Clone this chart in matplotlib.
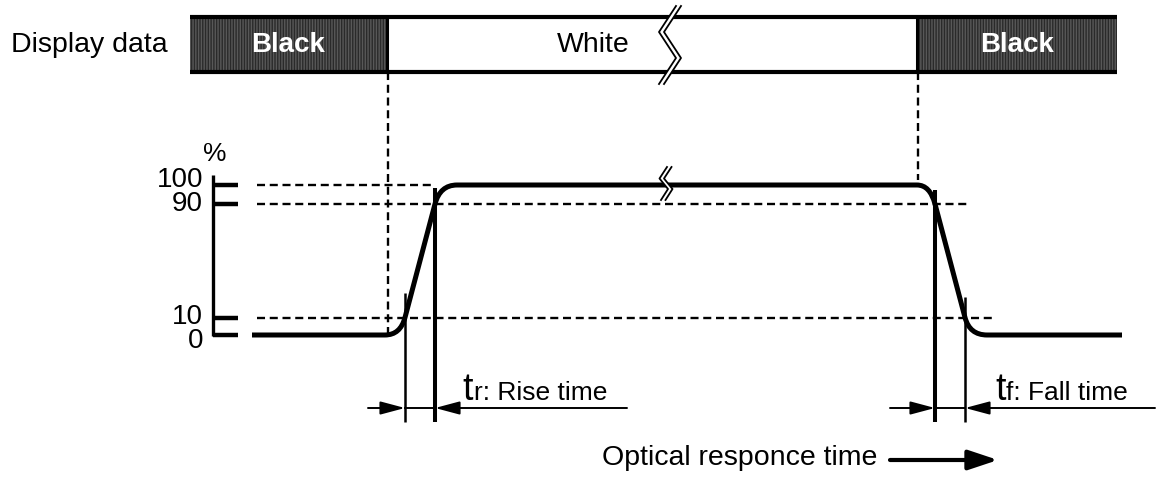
import numpy as np
import matplotlib
matplotlib.use("Agg")
import matplotlib.pyplot as plt
from matplotlib.path import Path
from matplotlib.patches import PathPatch, Rectangle, Polygon, FancyArrowPatch

plt.rcParams['font.family'] = ['Liberation Sans', 'DejaVu Sans']
plt.rcParams['hatch.linewidth'] = 1.0

# ---------------- data ----------------
segment_labels = ["Black", "White", "Black"]
segment_edges = [190, 387, 917, 1117]          # time of display-data transitions
levels = [0, 10, 90, 100]                       # percent levels on the response axis
level_labels = ["0", "10", "90", "100"]
curve_time = [252, 385, 405, 435, 457, 917, 935, 965, 987, 1122]
curve_pct = [0, 0, 10, 90, 100, 100, 90, 10, 0, 0]
rise_times = [405, 435]     # tr measured between 10% and 90%
fall_times = [935, 965]     # tf measured between 90% and 10%

# ---------------- layout ----------------
W, H = 1160, 479
LEVEL_Y = [335, 317.5, 204, 185]      # schematic (non-linear) placement of levels


def py(p):
    return np.interp(p, levels, LEVEL_Y)


fig = plt.figure(figsize=(W / 100, H / 100), dpi=100)
ax = fig.add_axes([0, 0, 1, 1])
ax.set_xlim(0, W)
ax.set_ylim(H, 0)
ax.axis('off')

# ---------- display data bar ----------
bar_top, bar_bot = 17, 72
ax.text(11, 45, "Display data", fontsize=20.5, ha='left', va='center')
for i, lab in enumerate(segment_labels):
    x0, x1 = segment_edges[i], segment_edges[i + 1]
    if lab == "Black":
        ax.add_patch(Rectangle((x0, bar_top), x1 - x0, bar_bot - bar_top,
                               facecolor='#2a2a2a', edgecolor='#585858',
                               hatch='||||||', linewidth=0, zorder=1))
        ax.text((x0 + x1) / 2, 45, lab, fontsize=20, fontweight='bold',
                color='white', ha='center', va='center', zorder=3)
    else:
        ax.text(593, 45, lab, fontsize=20.5, ha='center', va='center', zorder=3)
ax.plot([segment_edges[0], segment_edges[-1]], [bar_top, bar_top], color='k', lw=3, solid_capstyle='butt', zorder=2)
ax.plot([segment_edges[0], segment_edges[-1]], [bar_bot, bar_bot], color='k', lw=3, solid_capstyle='butt', zorder=2)
for x in segment_edges[1:-1]:
    ax.plot([x, x], [bar_top, bar_bot], color='k', lw=2.2, zorder=2)

# break mark in bar
zz = np.array([[676, 6], [659, 32], [676, 58], [659, 84]], float)
off = np.array([5, 0])
ax.add_patch(Polygon(np.vstack([zz, (zz + off)[::-1]]), closed=True,
                     facecolor='white', edgecolor='none', zorder=4))
for z in (zz, zz + off):
    ax.plot(z[:, 0], z[:, 1], color='k', lw=1.3, zorder=5)

# ---------- dashed guide lines ----------
dash = (0, (3.4, 2.0))
dlw = 1.7
ax.plot([segment_edges[1] + 1, segment_edges[1] + 1], [bar_bot, 333], color='k', lw=dlw, ls=dash)
ax.plot([segment_edges[2] + 1, segment_edges[2] + 1], [bar_bot, 180], color='k', lw=dlw, ls=dash)
ax.plot([257, 432], [py(100), py(100)], color='k', lw=dlw, ls=dash)
ax.plot([257, 968], [py(90), py(90)], color='k', lw=dlw, ls=dash)
ax.plot([257, 993], [py(10), py(10)], color='k', lw=dlw, ls=dash)

# ---------- vertical axis ----------
ax.plot([213, 213], [175, py(0) + 1], color='k', lw=2.4, solid_capstyle='butt')
for lv, lab in zip(levels, level_labels):
    ax.plot([213, 238], [py(lv), py(lv)], color='k', lw=3.2, solid_capstyle='butt')
    dy = {0: 6, 10: -1, 100: -5}.get(lv, 0)
    ax.text(203, py(lv) + dy, lab, fontsize=20, ha='right', va='center')
ax.text(215, 154, "%", fontsize=19, ha='center', va='center')

# ---------- response curve ----------
xs = np.array(curve_time, float)
ys = py(np.array(curve_pct, float))


def corner_ctrl(pa, pb, y_level):
    # extend line pa->pb to y_level
    (xa, ya), (xb, yb) = pa, pb
    return xa + (xb - xa) * (y_level - ya) / (yb - ya)


verts, codes = [], []
P = list(zip(xs, ys))
verts += [P[0], P[1]]; codes += [Path.MOVETO, Path.LINETO]
c = corner_ctrl(P[3], P[2], P[1][1]); verts += [(c, P[1][1]), P[2]]; codes += [Path.CURVE3] * 2
verts += [P[3]]; codes += [Path.LINETO]
c = corner_ctrl(P[2], P[3], P[4][1]); verts += [(c, P[4][1]), P[4]]; codes += [Path.CURVE3] * 2
verts += [P[5]]; codes += [Path.LINETO]
c = corner_ctrl(P[7], P[6], P[5][1]); verts += [(c, P[5][1]), P[6]]; codes += [Path.CURVE3] * 2
verts += [P[7]]; codes += [Path.LINETO]
c = corner_ctrl(P[6], P[7], P[8][1]); verts += [(c, P[8][1]), P[8]]; codes += [Path.CURVE3] * 2
verts += [P[9]]; codes += [Path.LINETO]
ax.add_patch(PathPatch(Path(verts, codes), facecolor='none', edgecolor='k',
                       lw=3.6, capstyle='butt', joinstyle='round', zorder=3))

# break mark on plateau
zp = np.array([[667, 167], [659.5, 178.5], [668, 189], [661, 200]], float)
offp = np.array([4.5, 0])
ax.add_patch(Polygon(np.vstack([zp, (zp + offp)[::-1]]), closed=True,
                     facecolor='white', edgecolor='none', zorder=4))
for z in (zp, zp + offp):
    ax.plot(z[:, 0], z[:, 1], color='k', lw=1.3, zorder=5)

# ---------- time markers ----------
ax.plot([rise_times[0]] * 2, [293, 422], color='k', lw=1.8, solid_capstyle='butt')
ax.plot([rise_times[1]] * 2, [188, 422], color='k', lw=2.9, solid_capstyle='butt')
ax.plot([fall_times[0]] * 2, [190, 422], color='k', lw=2.9, solid_capstyle='butt')
ax.plot([fall_times[1]] * 2, [297, 422], color='k', lw=1.8, solid_capstyle='butt')

arr_y = 408
astyle = '-|>,head_length=0.75,head_width=0.2'


def arrow(x0, x1, y):
    ax.add_patch(FancyArrowPatch((x0, y), (x1, y), arrowstyle=astyle,
                                 mutation_scale=20, lw=1.4, color='k',
                                 shrinkA=0, shrinkB=0))


for (a, b), (l, r) in ((rise_times, (368, 627)), (fall_times, (890, 1155))):
    arrow(l, a, arr_y)
    arrow(r, b, arr_y)
    ax.plot([a, b], [arr_y, arr_y], color='k', lw=1.4)

ax.text(462, 400, "t", fontsize=27, ha='left', va='baseline')
ax.text(474, 400, "r: Rise time", fontsize=19, ha='left', va='baseline')
ax.text(995, 400, "t", fontsize=27, ha='left', va='baseline')
ax.text(1006, 400, "f: Fall time", fontsize=19, ha='left', va='baseline')

# ---------- optical response time ----------
ax.text(602, 458, "Optical responce time", fontsize=20.5, ha='left', va='center')
ax.add_patch(FancyArrowPatch((890, 460), (998, 460),
                             arrowstyle='-|>,head_length=0.9,head_width=0.3',
                             mutation_scale=20, lw=3.0, color='k',
                             shrinkA=0, shrinkB=0))

fig.savefig("out.png", dpi=100)
